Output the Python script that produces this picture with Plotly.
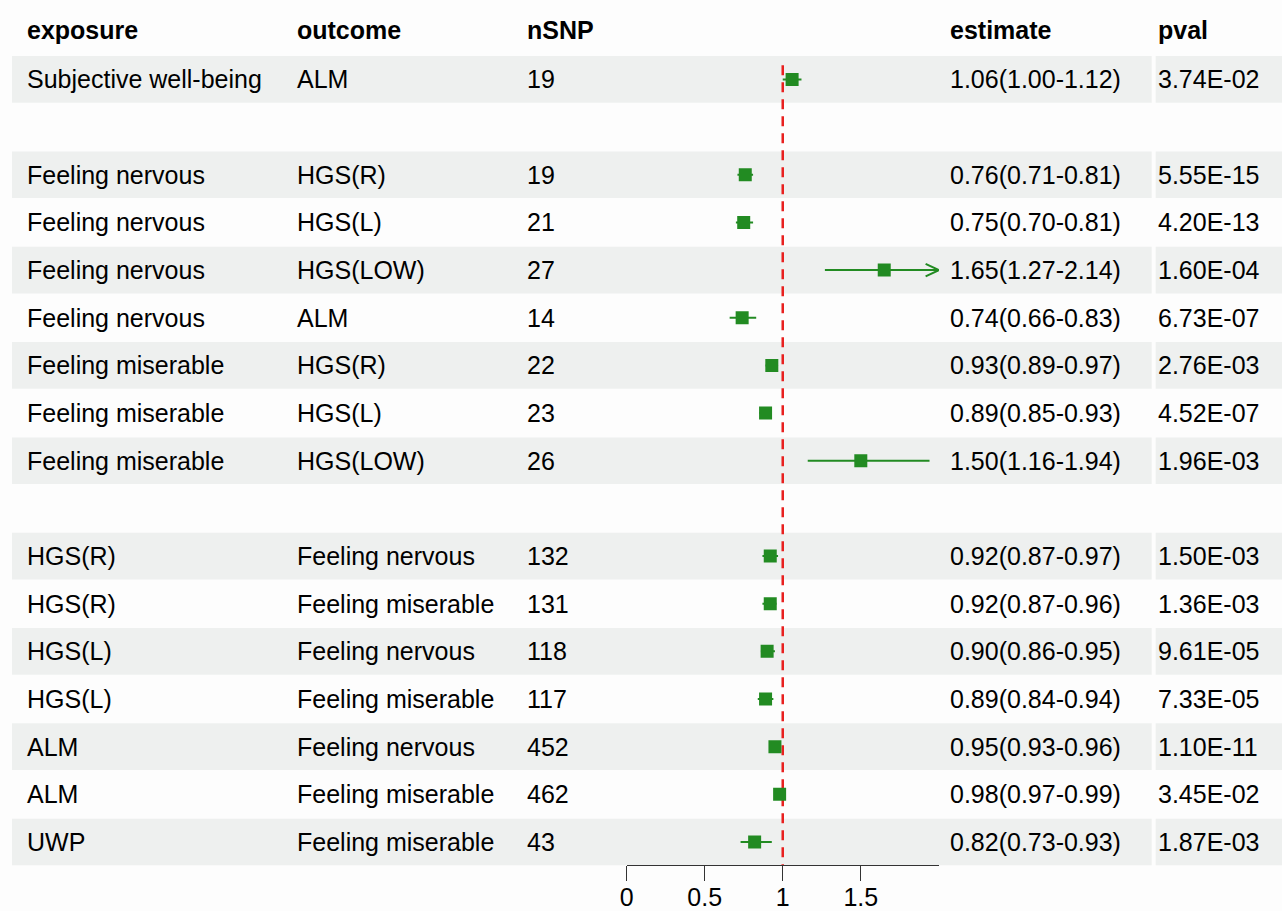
import plotly.graph_objects as go

# ---------------- data ----------------
exposure = ["Subjective well-being", "", "Feeling nervous", "Feeling nervous", "Feeling nervous",
            "Feeling nervous", "Feeling miserable", "Feeling miserable", "Feeling miserable", "",
            "HGS(R)", "HGS(R)", "HGS(L)", "HGS(L)", "ALM", "ALM", "UWP"]
outcome = ["ALM", "", "HGS(R)", "HGS(L)", "HGS(LOW)", "ALM", "HGS(R)", "HGS(L)", "HGS(LOW)", "",
           "Feeling nervous", "Feeling miserable", "Feeling nervous", "Feeling miserable",
           "Feeling nervous", "Feeling miserable", "Feeling miserable"]
nsnp = ["19", "", "19", "21", "27", "14", "22", "23", "26", "",
        "132", "131", "118", "117", "452", "462", "43"]
est = [1.06, None, 0.76, 0.75, 1.65, 0.74, 0.93, 0.89, 1.50, None,
       0.92, 0.92, 0.90, 0.89, 0.95, 0.98, 0.82]
low = [1.00, None, 0.71, 0.70, 1.27, 0.66, 0.89, 0.85, 1.16, None,
       0.87, 0.87, 0.86, 0.84, 0.93, 0.97, 0.73]
up = [1.12, None, 0.81, 0.81, 2.14, 0.83, 0.97, 0.93, 1.94, None,
      0.97, 0.96, 0.95, 0.94, 0.96, 0.99, 0.93]
pval = ["3.74E-02", "", "5.55E-15", "4.20E-13", "1.60E-04", "6.73E-07", "2.76E-03", "4.52E-07",
        "1.96E-03", "", "1.50E-03", "1.36E-03", "9.61E-05", "7.33E-05", "1.10E-11", "3.45E-02",
        "1.87E-03"]
headers = ["exposure", "outcome", "nSNP", "estimate", "pval"]
tick_vals = [0, 0.5, 1, 1.5]
tick_text = ["0", "0.5", "1", "1.5"]
x_limits = [0, 2]
ref_value = 1

# ---------------- layout helpers ----------------
W, H = 1282, 911
ROW0, STEP = 80.6, 48.35       # pixel centre of first data row, row pitch
n = len(exposure)
rows = list(range(1, n + 1))
y_top = 1 - ROW0 / STEP
y_bot = 1 + (H - ROW0) / STEP

FONT = "Liberation Sans, Arial, sans-serif"
FS = 25
GREEN = "#228b22"
STRIPE = "#eef0ef"

col_x = [18, 290, 521, 946, 1155]

fig = go.Figure()

shapes = []
for k in rows:
    if k % 2 == 1:
        shapes.append(dict(type="rect", xref="paper", yref="y", x0=5 / W, x1=1151 / W,
                           y0=k - 0.49, y1=k + 0.49, fillcolor=STRIPE, line_width=0, layer="below"))
        shapes.append(dict(type="rect", xref="paper", yref="y", x0=1155 / W, x1=1,
                           y0=k - 0.49, y1=k + 0.49, fillcolor=STRIPE, line_width=0, layer="below"))

annotations = []
for h, cx in zip(headers, col_x):
    annotations.append(dict(x=cx / W, y=1 - 30.2 / H, xref="paper", yref="paper",
                            text=f"<b>{h}</b>",
                            showarrow=False, xanchor="left", yanchor="middle",
                            font=dict(family=FONT, size=FS, color="black")))
for k, a, b, c, e, l, u, p in zip(rows, exposure, outcome, nsnp, est, low, up, pval):
    texts = [a, b, c, "" if e is None else f"{e:.2f}({l:.2f}-{u:.2f})", p]
    for t, cx in zip(texts, col_x):
        if t:
            annotations.append(dict(x=cx / W, y=k, xref="paper", yref="y", text=t,
                                    showarrow=False, xanchor="left", yanchor="middle",
                                    font=dict(family=FONT, size=FS, color="black")))

# reference line
fig.add_trace(go.Scatter(x=[ref_value, ref_value], y=[0.7, n + 0.5], mode="lines",
                         line=dict(color="#e8201f", width=2.5, dash="10px,7px"),
                         hoverinfo="skip", showlegend=False))

# CIs and points
px_y = [k for k, e in zip(rows, est) if e is not None]
px_e = [e for e in est if e is not None]
px_lo = [l for l in low if l is not None]
px_up = [u for u in up if u is not None]
ci_x, ci_y = [], []
for k, l, u in zip(px_y, px_lo, px_up):
    ci_x += [l, min(u, x_limits[1]), None]
    ci_y += [k, k, None]
fig.add_trace(go.Scatter(x=ci_x, y=ci_y, mode="lines", line=dict(color=GREEN, width=2),
                         hoverinfo="skip", showlegend=False))
# arrow heads for clipped intervals
ar_x, ar_y = [], []
dx, dy = 0.085, 0.13
for k, u in zip(px_y, px_up):
    if u > x_limits[1]:
        xm = x_limits[1]
        ar_x += [xm - dx, xm, xm - dx, None]
        ar_y += [k - dy, k, k + dy, None]
fig.add_trace(go.Scatter(x=ar_x, y=ar_y, mode="lines", line=dict(color=GREEN, width=2),
                         hoverinfo="skip", showlegend=False))
fig.add_trace(go.Scatter(x=px_e, y=px_y, mode="markers",
                         marker=dict(symbol="square", size=13, color=GREEN, line_width=0),
                         showlegend=False))

fig.update_layout(
    width=W, height=H, margin=dict(l=0, r=0, t=0, b=0),
    paper_bgcolor="#fdfdfd", plot_bgcolor="rgba(0,0,0,0)",
    shapes=shapes, annotations=annotations,
    xaxis=dict(domain=[623 / W, 937 / W], range=x_limits, showgrid=False, zeroline=False,
               tickvals=tick_vals, ticktext=tick_text, showline=True, linecolor="#333333",
               linewidth=1, ticks="outside", ticklen=15, tickcolor="#333333",
               ticklabelstandoff=-5,
               anchor="free", position=1 - 877.5 / H,
               tickfont=dict(family=FONT, size=FS, color="black")),
    yaxis=dict(domain=[0, 1], range=[y_bot, y_top], visible=False, showgrid=False,
               zeroline=False),
)

fig.write_html("out.html", config={"displayModeBar": False},
               post_script="document.body.style.margin='0';document.body.style.overflow='hidden';")
